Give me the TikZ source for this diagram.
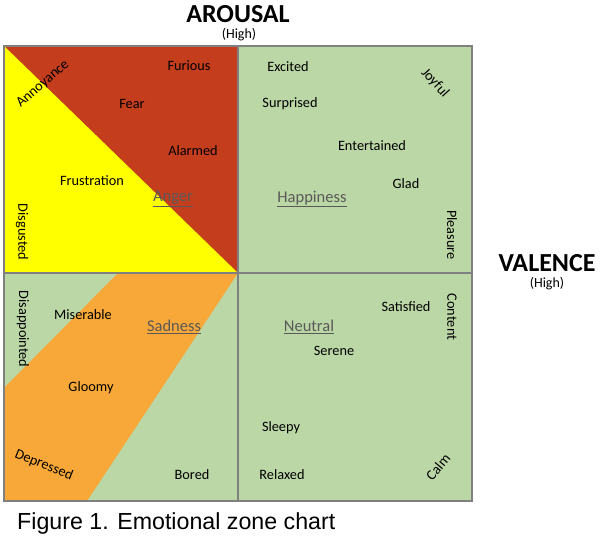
\documentclass[tikz,border=0pt]{standalone}
\usepackage{fontspec}
\setmainfont{Carlito}
\newfontfamily\capfont{Liberation Sans}
\definecolor{angerred}{RGB}{196,62,29}
\definecolor{zoneyellow}{RGB}{255,255,0}
\definecolor{zonegreen}{RGB}{187,215,166}
\definecolor{sadorange}{RGB}{248,168,56}
\definecolor{gridgray}{RGB}{128,128,128}
\definecolor{catgray}{RGB}{89,89,89}
\tikzset{
  lbl/.style={font=\fontsize{14.3}{16}\selectfont, text=black, inner sep=0pt},
  cat/.style={font=\fontsize{16.5}{18}\selectfont, text=catgray, inner sep=0pt},
  axis/.style={font=\fontsize{26}{28}\selectfont\bfseries, text=black, inner sep=0pt},
  axsub/.style={font=\fontsize{14}{15}\selectfont, text=black, inner sep=0pt},
  grid/.style={draw=gridgray, line width=1.6pt}
}
\begin{document}
\begin{tikzpicture}[x=1pt,y=-1pt]
\useasboundingbox (0,0) rectangle (605,540);
% quadrant fills
\fill[angerred] (4,46) rectangle (238,273);
\fill[zoneyellow] (4,46) -- (238,273) -- (4,273) -- cycle;
\fill[zonegreen] (238,46) rectangle (472,501);
\fill[zonegreen] (4,273) rectangle (238,501);
\fill[sadorange] (118,273) -- (238,273) -- (87,501) -- (4,501) -- (4,388) -- cycle;
% grid
\draw[grid] (4,46) rectangle (472,501);
\draw[grid] (238,46) -- (238,501);
\draw[grid] (4,273) -- (472,273);
% axis titles
\node[axis] (arousal) at (238,14) {AROUSAL};
\node[axsub] (arousalhigh) at (239,35) {(High)};
\node[axis] (valence) at (547,263) {VALENCE};
\node[axsub] (valencehigh) at (547,284) {(High)};
% top-left
\node[lbl, rotate=41] (annoyance) at (43,84) {Annoyance};
\node[lbl] (furious) at (189,66) {Furious};
\node[lbl] (fear) at (132,104) {Fear};
\node[lbl] (alarmed) at (193,151) {Alarmed};
\node[lbl] (frustration) at (92,181) {Frustration};
\node[cat] (anger) at (173,199) {\underline{Anger}};
\node[lbl, rotate=-90] (disgusted) at (22,232) {Disgusted};
% top-right
\node[lbl] (excited) at (288,67) {Excited};
\node[lbl, rotate=-48] (joyful) at (435,83) {Joyful};
\node[lbl] (surprised) at (290,104) {Surprised};
\node[lbl] (entertained) at (372,146) {Entertained};
\node[lbl] (glad) at (406,184) {Glad};
\node[cat] (happiness) at (312,199) {\underline{Happiness}};
\node[lbl, rotate=-90] (pleasure) at (452,235) {Pleasure};
% bottom-left
\node[lbl, rotate=-90] (disappointed) at (23,329) {Disappointed};
\node[lbl] (miserable) at (83,315) {Miserable};
\node[cat] (sadness) at (174,327) {\underline{Sadness}};
\node[lbl] (gloomy) at (91,388) {Gloomy};
\node[lbl, rotate=-22] (depressed) at (44,465) {Depressed};
\node[lbl] (bored) at (192,475) {Bored};
% bottom-right
\node[lbl] (satisfied) at (406,307) {Satisfied};
\node[lbl, rotate=-90] (content) at (452,317) {Content};
\node[cat] (neutral) at (309,327) {\underline{Neutral}};
\node[lbl] (serene) at (334,351) {Serene};
\node[lbl] (sleepy) at (281,428) {Sleepy};
\node[lbl] (relaxed) at (282,475) {Relaxed};
\node[lbl, rotate=50] (calm) at (438,467) {Calm};
% caption
\node[font=\capfont\fontsize{23.2}{25}\selectfont, anchor=west, inner sep=0pt] (caption) at (17,523) {Figure 1. Emotional zone chart};
\end{tikzpicture}
\end{document}
